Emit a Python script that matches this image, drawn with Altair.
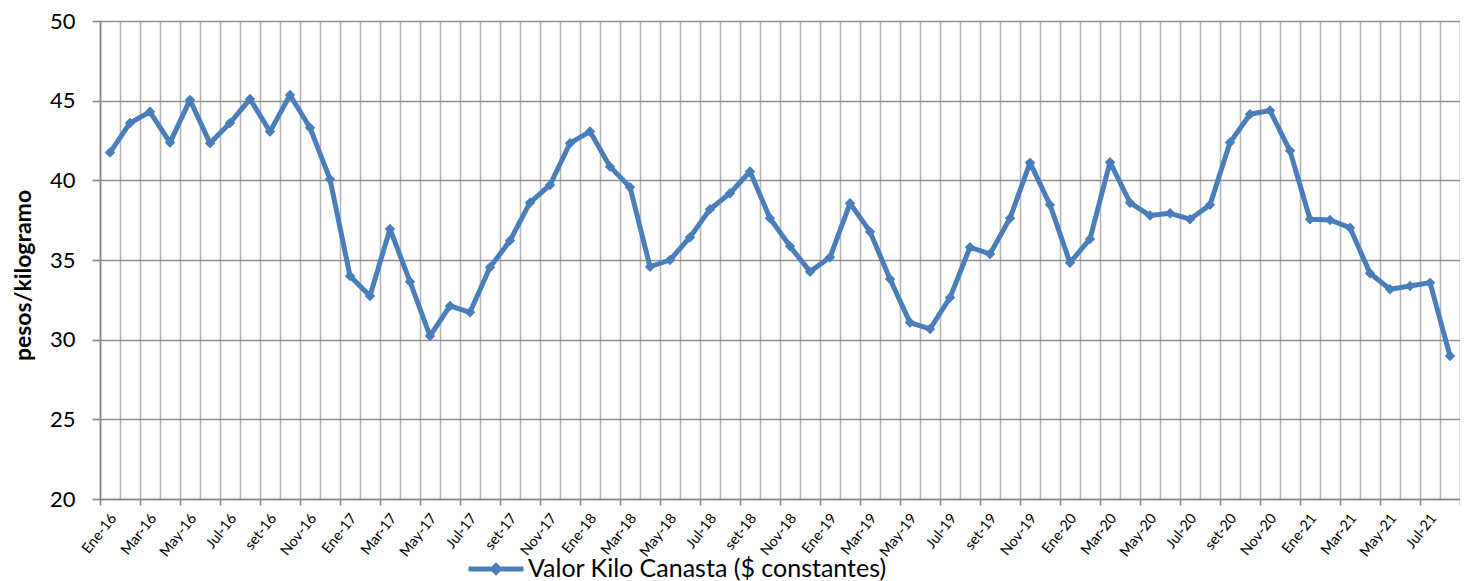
import json
import altair as alt
import pandas as pd

# ---- data ----
months = ["Ene", "Feb", "Mar", "Abr", "May", "Jun", "Jul", "Ago", "set", "Oct", "Nov", "Dic"]
years = ["16", "17", "18", "19", "20", "21"]
n_months = 68

values = [41.74, 43.60, 44.30, 42.37, 45.05, 42.33, 43.60, 45.10, 43.06, 45.36, 43.30, 40.07,
          34.00, 32.74, 36.95, 33.64, 30.23, 32.12, 31.72, 34.54, 36.22, 38.60, 39.71, 42.33,
          43.06, 40.86, 39.57, 34.58, 35.00, 36.43, 38.19, 39.19, 40.55, 37.62, 35.86, 34.27,
          35.17, 38.56, 36.78, 33.81, 31.07, 30.67, 32.64, 35.80, 35.38, 37.62, 41.11, 38.46,
          34.83, 36.32, 41.14, 38.60, 37.79, 37.93, 37.56, 38.46, 42.37, 44.15, 44.38, 41.85,
          37.56, 37.51, 37.03, 34.17, 33.16, 33.37, 33.58, 28.98]

tick_labels = ["Ene-16", "Mar-16", "May-16", "Jul-16", "set-16", "Nov-16",
               "Ene-17", "Mar-17", "May-17", "Jul-17", "set-17", "Nov-17",
               "Ene-18", "Mar-18", "May-18", "Jul-18", "set-18", "Nov-18",
               "Ene-19", "Mar-19", "May-19", "Jul-19", "set-19", "Nov-19",
               "Ene-20", "Mar-20", "May-20", "Jul-20", "set-20", "Nov-20",
               "Ene-21", "Mar-21", "May-21", "Jul-21"]

y_ticks = [20, 25, 30, 35, 40, 45, 50]
series_name = "Valor Kilo Canasta ($ constantes)"

categories = [f"{months[i % 12]}-{years[i // 12]}" for i in range(n_months)]
df = pd.DataFrame({
    "mes": categories,
    "pos": [i + 0.5 for i in range(n_months)],
    "valor": values,
    "serie": series_name,
})

BLUE = "#4A7EBB"
FONT = "Lato"

label_expr = ("(datum.value % 2 === 0 && datum.value < " + str(n_months) + ") ? "
              + json.dumps(tick_labels) + "[datum.value / 2] : ''")

x_enc = alt.X(
    "pos:Q",
    scale=alt.Scale(domain=[0, n_months], nice=False, zero=False),
    axis=alt.Axis(
        values=list(range(n_months + 1)),
        title=None,
        grid=True,
        gridColor="#b5b5b5",
        gridWidth=1.6,
        domainColor="#868686",
        domainWidth=1.6,
        tickColor={"condition": {"test": "datum.value % 2 === 0", "value": "#868686"},
                   "value": "transparent"},
        tickWidth=1.6,
        tickSize=6,
        labelExpr=label_expr,
        labelAngle=-52,
        labelAlign="right",
        labelBaseline="top",
        labelOffset=8,
        labelPadding=6,
        labelFont=FONT,
        labelFontSize=14.5,
        labelColor="#000000",
        labelOverlap=False,
        labelBound=False,
        labelFlush=False,
    ),
)

y_enc = alt.Y(
    "valor:Q",
    scale=alt.Scale(domain=[20, 50], nice=False, zero=False),
    axis=alt.Axis(
        values=y_ticks,
        title="pesos/kilogramo",
        titleFont=FONT,
        titleFontSize=23,
        titleFontWeight="bold",
        titleColor="#000000",
        titleX=-77,
        titleY=254,
        titleAngle=270,
        titleAlign="center",
        titleBaseline="middle",
        grid=True,
        gridColor="#8f8f8f",
        gridWidth=1.6,
        domainColor="#868686",
        domainWidth=1.6,
        tickColor="#868686",
        tickWidth=1.6,
        tickSize=8,
        labelPadding=17,
        labelFont=FONT,
        labelFontSize=22,
        labelColor="#000000",
    ),
)

line = alt.Chart(df).mark_line(strokeWidth=5, strokeJoin="round").encode(
    x=x_enc,
    y=y_enc,
    color=alt.Color(
        "serie:N",
        scale=alt.Scale(domain=[series_name], range=[BLUE]),
        legend=alt.Legend(
            title=None,
            orient="none",
            legendX=366,
            legendY=518,
            symbolType="M-1,0L1,0M0,-0.12L0.12,0L0,0.12L-0.12,0Z",
            symbolSize=3025,
            symbolStrokeWidth=5,
            symbolStrokeColor=BLUE,
            labelFont=FONT,
            labelFontSize=25,
            labelColor="#000000",
            labelOffset=2,
            labelLimit=0,
        ),
    ),
)

points = alt.Chart(df).mark_point(shape="diamond", filled=True, size=110, opacity=1, color=BLUE).encode(
    x=x_enc,
    y=y_enc,
)

chart = (
    alt.layer(line, points)
    .properties(
        width=1360,
        height=478,
        autosize=alt.AutoSizeParams(type="none"),
        padding={"left": 92, "top": 13, "right": 0, "bottom": 82},
        background="#ffffff",
    )
    .configure_view(stroke=None)
)

chart.save("out.html", embed_options={"renderer": "svg", "actions": False})
